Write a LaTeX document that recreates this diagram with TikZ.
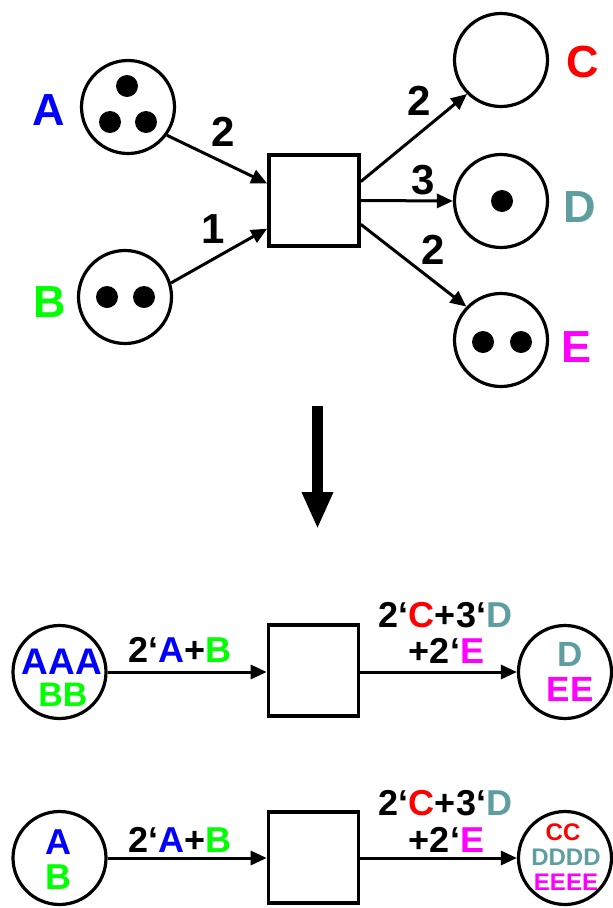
\documentclass[tikz,border=0pt]{standalone}
\usepackage{fontspec}
\setmainfont{Liberation Sans}
\usetikzlibrary{arrows.meta}
\definecolor{colA}{RGB}{0,0,255}
\definecolor{colB}{RGB}{0,255,0}
\definecolor{colC}{RGB}{255,0,0}
\definecolor{colD}{RGB}{95,158,160}
\definecolor{colE}{RGB}{255,0,255}
\newcommand{\fsz}[1]{\fontsize{#1}{#1}\bfseries\selectfont}
\begin{document}
\begin{tikzpicture}[x=1pt,y=-1pt,
  place/.style={circle,draw,line width=3.2pt,minimum size=93pt,inner sep=0pt},
  trans/.style={rectangle,draw,line width=3.6pt,minimum width=90pt,minimum height=91pt,inner sep=0pt},
  tokendot/.style={circle,fill,inner sep=0pt,minimum size=22pt},
  arc/.style={line width=3pt,-{Triangle[length=16pt,width=14pt]}},
  placelbl/.style={inner sep=0pt,font=\fsz{45pt}},
  weightlbl/.style={inner sep=0pt,font=\fsz{42pt}},
  inscr/.style={inner sep=0pt,font=\fsz{35pt}},
  arclbl/.style={inner sep=0pt,font=\fsz{36pt}},
  smalllbl/.style={inner sep=0pt,font=\fsz{24pt}},
]
\useasboundingbox (0,0) rectangle (613,908);

% ---------- net with tokens ----------
\node[place] (A) at (128,107) {};
\node[tokendot] (a1) at (127,86) {};
\node[tokendot] (a2) at (110,122) {};
\node[tokendot] (a3) at (146,122) {};
\node[place] (B) at (125,297) {};
\node[tokendot] (b1) at (107,297) {};
\node[tokendot] (b2) at (144,297) {};
\node[trans] (T) at (314,200.5) {};
\node[place] (C) at (501,60) {};
\node[place] (D) at (501,201) {};
\node[tokendot] (d1) at (502,201) {};
\node[place] (E) at (501,340) {};
\node[tokendot] (e1) at (483,342) {};
\node[tokendot] (e2) at (521,342) {};

\node[placelbl,text=colA] (nA) at (49,110) {A};
\node[placelbl,text=colB] (nB) at (50,302) {B};
\node[placelbl,text=colC] (nC) at (583,62.5) {C};
\node[placelbl,text=colD] (nD) at (580,207) {D};
\node[placelbl,text=colE] (nE) at (577,347) {E};

\draw[arc] (A.-36) -- (T.160);
\draw[arc] (B.17) -- (T.211);
\draw[arc] (T.22) -- (C.225);
\draw[arc] (T.east) -- (D.west);
\draw[arc] (T.-27) -- (E.136);

\node[weightlbl] (w1) at (223,132) {2};
\node[weightlbl] (w2) at (213,229) {1};
\node[weightlbl] (w3) at (419,101) {2};
\node[weightlbl] (w4) at (423,180) {3};
\node[weightlbl] (w5) at (433,250) {2};

% ---------- folding arrow ----------
\coordinate (bigtop) at (317.5,406);
\coordinate (bigtip) at (317.5,529);
\draw[line width=11pt,-{Triangle[length=37pt,width=29pt]}] (bigtop) -- (bigtip);

% ---------- coloured net, first marking ----------
\node[place] (P1) at (59.5,672) {};
\node[trans] (T1) at (313.5,670.5) {};
\node[place] (Q1) at (565,672) {};
\draw[arc] (P1.east) -- (P1.east -| T1.west);
\draw[arc] (T1.east |- Q1.west) -- (Q1.west);

\node[inner sep=0pt,font=\fsz{37pt},text=colA] (p1a) at (62,661.5) {AAA};
\node[inner sep=0pt,font=\fsz{34pt},text=colB] (p1b) at (63,695) {BB};
\node[inscr,text=colD] (q1d) at (570,654.5) {D};
\node[inscr,text=colE] (q1e) at (570,689.5) {EE};

\node[arclbl] (m1) at (180,649.5) {2‘\textcolor{colA}{A}+\textcolor{colB}{B}};
\node[arclbl] (m2) at (445.5,615) {2‘\textcolor{colC}{C}+3‘\textcolor{colD}{D}};
\node[arclbl] (m3) at (446.5,650.5) {+2‘\textcolor{colE}{E}};

% ---------- coloured net, second marking ----------
\node[place] (P2) at (59.5,858) {};
\node[trans] (T2) at (313.5,857.5) {};
\node[place] (Q2) at (565,858) {};
\draw[arc] (P2.east) -- (P2.east -| T2.west);
\draw[arc] (T2.east |- Q2.west) -- (Q2.west);

\node[arclbl,text=colA] (p2a) at (58,842) {A};
\node[arclbl,text=colB] (p2b) at (58,877) {B};
\node[smalllbl,text=colC] (q2c) at (563,832) {CC};
\node[smalllbl,text=colD] (q2d) at (566,857) {DDDD};
\node[smalllbl,text=colE] (q2e) at (566,882) {EEEE};

\node[arclbl] (m4) at (180,840) {2‘\textcolor{colA}{A}+\textcolor{colB}{B}};
\node[arclbl] (m5) at (445.5,803.5) {2‘\textcolor{colC}{C}+3‘\textcolor{colD}{D}};
\node[arclbl] (m6) at (446.5,840) {+2‘\textcolor{colE}{E}};
\end{tikzpicture}
\end{document}
